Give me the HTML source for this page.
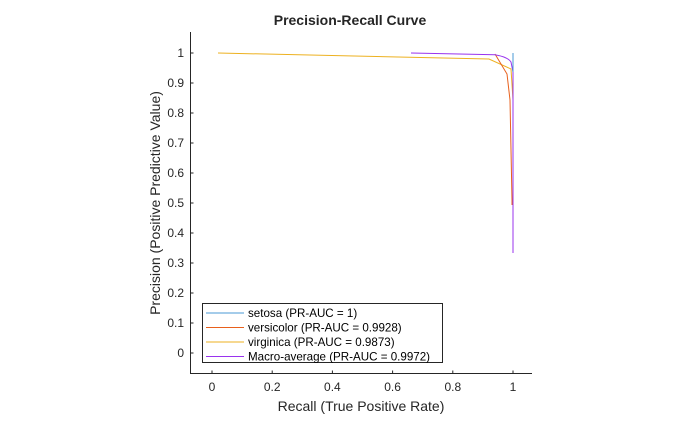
<!DOCTYPE html>
<html><head><style>body{margin:0;background:#fff}svg{display:block}text{font-family:"Liberation Sans",Arial,sans-serif}</style></head><body>
<svg width="700" height="421" viewBox="0 0 700 421">
<rect width="700" height="421" fill="#fff"/>
<text x="350" y="25" font-size="14" font-weight="bold" text-anchor="middle" fill="#262626">Precision-Recall Curve</text>
<g stroke="#262626" stroke-width="1" fill="none">
<path d="M190.5 32V373.5H532"/>
<path d="M212 373.5v-3M272.2 373.5v-3M332.4 373.5v-3M392.6 373.5v-3M452.8 373.5v-3M513 373.5v-3"/>
<path d="M190.5 353h3M190.5 323h3M190.5 293h3M190.5 263h3M190.5 233h3M190.5 203h3M190.5 173h3M190.5 143h3M190.5 113h3M190.5 83h3M190.5 53h3"/>
</g>
<g font-size="12" fill="#262626" text-anchor="middle">
<text x="212" y="391">0</text><text x="272.2" y="391">0.2</text><text x="332.4" y="391">0.4</text><text x="392.6" y="391">0.6</text><text x="452.8" y="391">0.8</text><text x="513" y="391">1</text>
</g>
<g font-size="12" fill="#262626" text-anchor="end">
<text x="184" y="357">0</text><text x="184" y="327">0.1</text><text x="184" y="297">0.2</text><text x="184" y="267">0.3</text><text x="184" y="237">0.4</text><text x="184" y="207">0.5</text><text x="184" y="177">0.6</text><text x="184" y="147">0.7</text><text x="184" y="117">0.8</text><text x="184" y="87">0.9</text><text x="184" y="57">1</text>
</g>
<text x="361" y="411" font-size="14" text-anchor="middle" fill="#262626">Recall (True Positive Rate)</text>
<text transform="translate(160 203) rotate(-90)" font-size="14" text-anchor="middle" fill="#262626">Precision (Positive Predictive Value)</text>
<g fill="none" stroke-width="1">
<path d="M218 53L489 59L511 69L513 100L513 200" stroke="#EDB120"/>
<path d="M495 54L507 74L510 100L512 200L512 205" stroke="#E8601C"/>
<path d="M411 53L495 54.7Q508 57 511 62L513 72L513 253" stroke="#9933ee"/>
<path d="M513 53V72" stroke="#4a9ad6"/>
</g>
<rect x="202.5" y="303.5" width="240" height="59" fill="#fff" stroke="#262626"/>
<g stroke-width="1">
<line x1="206" y1="313" x2="244" y2="313" stroke="#4a9ad6"/>
<line x1="206" y1="327.5" x2="244" y2="327.5" stroke="#E8601C"/>
<line x1="206" y1="342" x2="244" y2="342" stroke="#EDB120"/>
<line x1="206" y1="356.5" x2="244" y2="356.5" stroke="#9933ee"/>
</g>
<g font-size="11.6" fill="#000">
<text x="248" y="317">setosa (PR-AUC = 1)</text>
<text x="248" y="331.5">versicolor (PR-AUC = 0.9928)</text>
<text x="248" y="346">virginica (PR-AUC = 0.9873)</text>
<text x="248" y="360.5">Macro-average (PR-AUC = 0.9972)</text>
</g>
</svg>
</body></html>
